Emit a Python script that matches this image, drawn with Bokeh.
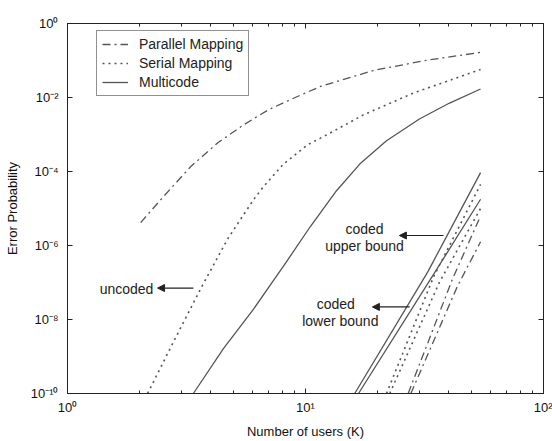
import numpy as np
from bokeh.plotting import figure
from bokeh.models import (Range1d, LogAxis, FixedTicker, CustomJSTickFormatter,
                          Legend, LegendItem, Label, Arrow, NormalHead)
from bokeh.embed import file_html
from bokeh.resources import INLINE

# ---------------- data ----------------
# uncoded curves: users K and log10(error probability)
par_unc_K = [2.03, 2.53, 3.29, 4.27, 5.49, 6.99, 8.91, 11.56, 19.3, 32.6, 54.4]
par_unc_logP = [-5.38, -4.68, -3.87, -3.23, -2.74, -2.33, -2.02, -1.70, -1.27, -0.99, -0.78]

ser_unc_K = [2.17, 2.23, 2.79, 3.62, 4.70, 6.05, 6.66, 8.08, 10.2, 12.7, 17.5, 28.4, 54.4]
ser_unc_logP = [-10.0, -9.85, -8.60, -7.18, -5.83, -4.76, -4.41, -3.80, -3.28, -2.96, -2.47, -1.88, -1.24]

mc_unc_K = [3.38, 4.52, 6.05, 8.08, 10.5, 13.5, 16.9, 21.9, 30.1, 40.3, 54.4]
mc_unc_logP = [-10.0, -8.79, -7.72, -6.56, -5.48, -4.52, -3.80, -3.17, -2.58, -2.15, -1.77]

# coded curves (upper / lower bounds)
mc_up_K = [16.1, 32.6, 54.4];   mc_up_logP = [-10.0, -6.72, -4.03]
mc_lo_K = [16.7, 34.0, 54.4];   mc_lo_logP = [-10.0, -6.85, -4.75]
ser_up_K = [21.9, 34.5, 54.4];  ser_up_logP = [-10.0, -6.85, -4.35]
ser_lo_K = [22.6, 36.5, 54.4];  ser_lo_logP = [-10.0, -7.0, -5.0]
par_up_K = [27.0, 41.5, 54.4];  par_up_logP = [-10.0, -6.9, -5.2]
par_lo_K = [27.7, 43.5, 54.4];  par_lo_logP = [-10.0, -7.1, -5.9]

series_names = ["Parallel Mapping", "Serial Mapping", "Multicode"]
x_ticks = [1, 10, 100]
y_ticks = [1e-10, 1e-8, 1e-6, 1e-4, 1e-2, 1]

# annotation texts
uncoded_text = "uncoded"
coded_text = "coded"
upper_text = "upper bound"
lower_text = "lower bound"

# ---------------- figure ----------------
FONT = "Liberation Sans"
INK = "#222222"
LINE = "#555555"

p = figure(width=552, height=441, output_backend="svg", toolbar_location=None,
           x_axis_type="log", y_axis_type="log",
           x_range=Range1d(1, 100), y_range=Range1d(1e-10, 1),
           min_border_left=67, min_border_right=9, min_border_top=23, min_border_bottom=46)
p.grid.visible = False
p.outline_line_color = INK
p.background_fill_color = "white"
p.border_fill_color = "white"

fmt = CustomJSTickFormatter(code="""
const sup = {'-':'\u207b','0':'\u2070','1':'\u00b9','2':'\u00b2','3':'\u00b3','4':'\u2074',
             '5':'\u2075','6':'\u2076','7':'\u2077','8':'\u2078','9':'\u2079'};
const e = Math.round(Math.log10(tick));
return '10' + String(e).split('').map(c => sup[c]).join('');
""")
empty = CustomJSTickFormatter(code="return '';")

x_minor = [m * d for d in (1, 10) for m in range(2, 10)]
xt = FixedTicker(ticks=x_ticks, minor_ticks=x_minor)
yt = FixedTicker(ticks=y_ticks, minor_ticks=[])

def style(ax, ticker, formatter):
    ax.ticker = ticker
    ax.formatter = formatter
    ax.major_tick_in = 5
    ax.major_tick_out = 0
    ax.minor_tick_in = 3
    ax.minor_tick_out = 0
    ax.axis_line_color = INK
    ax.major_tick_line_color = INK
    ax.minor_tick_line_color = INK
    ax.major_label_text_font = FONT
    ax.major_label_text_font_size = "13px"
    ax.major_label_text_color = "#111111"
    ax.axis_label_text_font = FONT
    ax.axis_label_text_font_size = "13px"
    ax.axis_label_text_font_style = "normal"
    ax.axis_label_text_color = "#111111"

style(p.xaxis[0], xt, fmt)
style(p.yaxis[0], yt, fmt)
p.xaxis[0].axis_label = "Number of users (K)"
p.xaxis[0].major_label_standoff = 6
p.xaxis[0].axis_label_standoff = 6
p.yaxis[0].axis_label = "Error Probability"
p.yaxis[0].major_label_standoff = 9
p.yaxis[0].axis_label_standoff = 8

top_ax = LogAxis()
style(top_ax, xt, empty)
top_ax.major_label_standoff = 0
top_ax.major_label_text_font_size = "1px"
p.add_layout(top_ax, "above")
right_ax = LogAxis()
style(right_ax, yt, empty)
right_ax.major_label_standoff = 0
right_ax.major_label_text_font_size = "1px"
p.add_layout(right_ax, "right")

def P(lp):
    return 10.0 ** np.asarray(lp)

W = 1.3
DASHDOT = "8 4 2 4"
DOT = "2 4"
r_par = p.line(par_unc_K, P(par_unc_logP), line_color=LINE, line_width=W, line_dash=DASHDOT)
r_ser = p.line(ser_unc_K, P(ser_unc_logP), line_color=LINE, line_width=W + 0.3, line_dash=DOT)
r_mc = p.line(mc_unc_K, P(mc_unc_logP), line_color=LINE, line_width=W)

p.line(mc_up_K, P(mc_up_logP), line_color=LINE, line_width=W)
p.line(mc_lo_K, P(mc_lo_logP), line_color=LINE, line_width=W)
p.line(ser_up_K, P(ser_up_logP), line_color=LINE, line_width=W + 0.3, line_dash=DOT)
p.line(ser_lo_K, P(ser_lo_logP), line_color=LINE, line_width=W + 0.3, line_dash=DOT)
p.line(par_up_K, P(par_up_logP), line_color=LINE, line_width=W, line_dash=DASHDOT)
p.line(par_lo_K, P(par_lo_logP), line_color=LINE, line_width=W, line_dash=DASHDOT)

legend = Legend(items=[LegendItem(label=series_names[0], renderers=[r_par]),
                       LegendItem(label=series_names[1], renderers=[r_ser]),
                       LegendItem(label=series_names[2], renderers=[r_mc])],
                location=(29, 297))
legend.label_text_font = FONT
legend.label_text_font_size = "14px"
legend.label_text_color = "#222222"
legend.label_height = 14
legend.glyph_height = 14
legend.glyph_width = 26
legend.label_standoff = 11
legend.spacing = 3
legend.padding = 5
legend.margin = 0
legend.border_line_color = INK
legend.border_line_width = 1
legend.background_fill_alpha = 1
p.add_layout(legend)

def text(x, y, t):
    p.add_layout(Label(x=x, y=y, text=t, text_align="center", text_baseline="middle",
                       text_font=FONT, text_font_size="14px", text_color="#222222"))

text(1.77, 10 ** -7.18, uncoded_text)
text(17.7, 10 ** -5.56, coded_text)
text(17.7, 10 ** -6.02, upper_text)
text(13.4, 10 ** -7.58, coded_text)
text(14.0, 10 ** -8.04, lower_text)

def arrow(x0, x1, y):
    p.add_layout(Arrow(end=NormalHead(size=7, fill_color=INK, line_color=INK),
                       x_start=x0, y_start=y, x_end=x1, y_end=y,
                       line_color=INK, line_width=1.2))

arrow(3.38, 2.39, 10 ** -7.15)
arrow(38.0, 24.8, 10 ** -5.73)
arrow(27.4, 19.1, 10 ** -7.66)

open("out.html", "w").write(file_html(p, INLINE))
